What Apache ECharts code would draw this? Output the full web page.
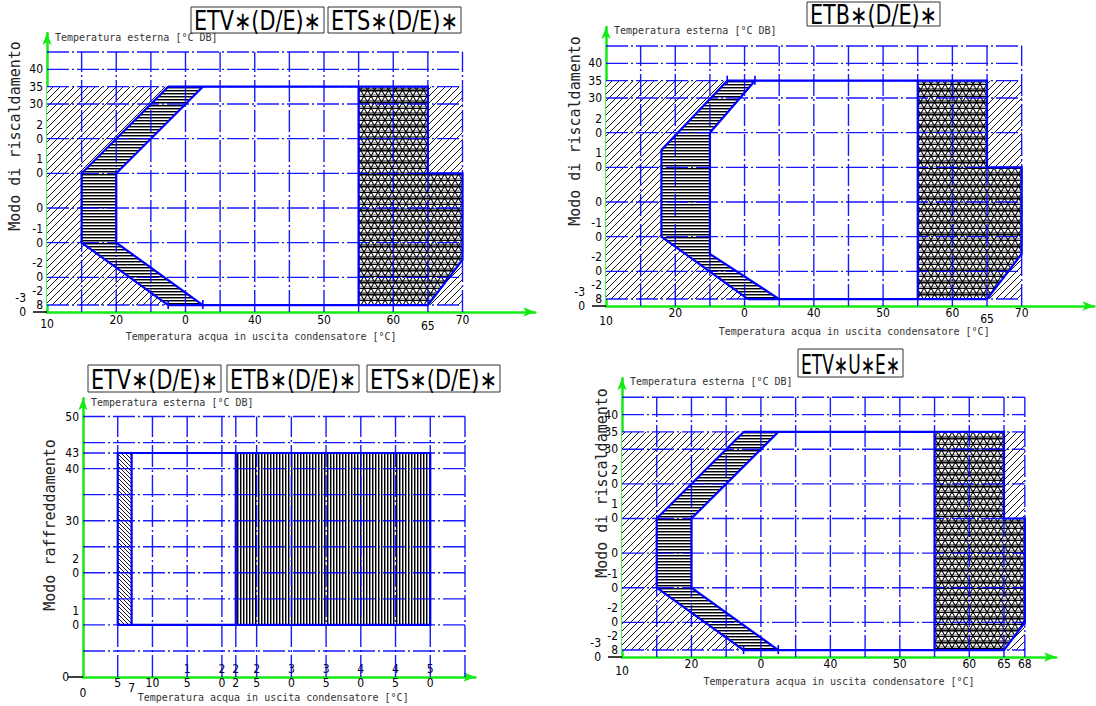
<!DOCTYPE html>
<html>
<head>
<meta charset="utf-8">
<script src="https://cdn.jsdelivr.net/npm/echarts@6/dist/echarts.min.js"></script>
<style>
  html, body { margin: 0; padding: 0; background: #fff; }
  #main { width: 1096px; height: 706px; }
</style>
</head>
<body>
<div id="main"></div>
<script>
// ---------- Heating envelope ETV*(D/E)* / ETS*(D/E)* ----------
const hvTickX = [10, 20, 30, 40, 50, 60, 65, 70];
const hvTickXText = ['10', '20', '0', '40', '50', '60', '65', '70'];
const hvTickY = [40, 35, 30, 20, 10, 0, -10, -20, -28, -30];
const hvTickYText = ['40', '35', '30', '2\n0', '1\n0', '0', '-1\n0', '-2\n0', '-2\n8', '-3\n0'];
const hvGridX = [15, 20, 25, 30, 35, 40, 45, 50, 55, 60, 65, 70];
const hvGridY = [45, 40, 35, 30, 20, 10, 0, -10, -20, -28];
const hvMinLine = [[27.5, 35], [15, 10], [15, -10], [27.5, -28]];
const hvLowLine = [[32.5, 35], [20, 10], [20, -10], [32.5, -28]];
const hvMaxLine = [[27.5, 35], [65, 35], [65, 10], [70, 10], [70, -15], [65, -28], [27.5, -28]];
const hvHighFrom = 55;

// ---------- Heating envelope ETB*(D/E)* ----------
const tbMinLine = [[27.5, 35], [18, 15], [18, -10], [30.5, -28]];
const tbLowLine = [[31.5, 35], [25, 20], [25, -15], [35, -28]];
const tbMaxLine = [[27.5, 35], [65, 35], [65, 10], [70, 10], [70, -15], [65, -28], [30.5, -28]];
const tbHighFrom = 55;

// ---------- Heating envelope ETV*U*E* ----------
const vuTickX = [10, 20, 30, 40, 50, 60, 65, 68];
const vuTickXText = ['10', '20', '0', '40', '50', '60', '65', '68'];
const vuGridX = [15, 20, 25, 30, 35, 40, 45, 50, 55, 60, 65, 68];
const vuMinLine = [[27.5, 35], [15, 10], [15, -10], [27.5, -28]];
const vuLowLine = [[32.5, 35], [20, 10], [20, -10], [32.5, -28]];
const vuMaxLine = [[27.5, 35], [65, 35], [65, 10], [68, 10], [68, -20], [65, -28], [27.5, -28]];
const vuHighFrom = 55;

// ---------- Cooling envelope ----------
const coTickX = [0, 5, 7, 10, 15, 20, 22, 25, 30, 35, 40, 45, 50];
const coTickXText = ['0', '5', '7', '10', '1\n5', '2\n0', '2\n2', '2\n5', '3\n0', '3\n5', '4\n0', '4\n5', '5\n0'];
const coTickY = [50, 43, 40, 30, 20, 10, 0];
const coTickYText = ['50', '43', '40', '30', '2\n0', '1\n0', '0'];
const coGridX = [5, 10, 15, 20, 22, 25, 30, 35, 40, 45, 50, 55];
const coGridY = [50, 45, 43, 40, 35, 30, 25, 20, 15, 10, 5];
const coEnvelope = [[5, 10], [50, 43]];
const coLowStrip = [5, 7];
const coHighBand = [22, 50];

// ---------- styling ----------
const FONT_NARROW = "'Liberation Sans Narrow', 'DejaVu Sans Condensed', 'Arial Narrow', sans-serif";
const FONT_MONO = "'DejaVu Sans Mono', 'Liberation Mono', monospace";
const GREEN = '#14ea14';
const BLUE = '#0000ff';
const GRID_DASH = [22, 3, 2, 3];

function makeTile(w, h, paint) {
  const c = document.createElement('canvas');
  c.width = w; c.height = h;
  const g = c.getContext('2d');
  g.fillStyle = '#fff';
  g.fillRect(0, 0, w, h);
  paint(g, w, h);
  return { image: c, repeat: 'repeat', imageWidth: w, imageHeight: h };
}
const HATCH_DIAG = makeTile(7, 7, (g, w, h) => {
  g.strokeStyle = '#000'; g.lineWidth = 0.9;
  g.beginPath();
  g.moveTo(-1, h + 1); g.lineTo(w + 1, -1);
  g.moveTo(-1, 1); g.lineTo(1, -1);
  g.moveTo(w - 1, h + 1); g.lineTo(w + 1, h - 1);
  g.stroke();
});
const HATCH_BACK = makeTile(4, 4, (g, w, h) => {
  g.strokeStyle = '#000'; g.lineWidth = 0.9;
  g.beginPath();
  g.moveTo(-1, -1); g.lineTo(w + 1, h + 1);
  g.moveTo(w - 1, -1); g.lineTo(w + 1, 1);
  g.moveTo(-1, h - 1); g.lineTo(1, h + 1);
  g.stroke();
});
const HATCH_HORZ = makeTile(4, 3, (g, w) => {
  g.fillStyle = '#000'; g.fillRect(0, 0, w, 1);
  g.fillStyle = '#8c8c8c'; g.fillRect(0, 1, w, 1);
});
const HATCH_VERT = makeTile(3, 4, (g, w, h) => {
  g.fillStyle = '#000'; g.fillRect(0, 0, 1, h);
  g.fillStyle = '#8c8c8c'; g.fillRect(1, 0, 1, h);
});
const HATCH_TRI = makeTile(7, 12, (g, w, h) => {
  g.fillStyle = '#7a7a7a'; g.fillRect(0, 4, w, 4);
  g.fillStyle = '#b0b0b0'; g.fillRect(0, 10, w, 2);
  g.strokeStyle = '#000'; g.lineWidth = 1.1;
  g.beginPath();
  g.moveTo(0, 0.5); g.lineTo(w, 0.5);
  g.moveTo(0, 6.5); g.lineTo(w, 6.5);
  g.moveTo(0, 0); g.lineTo(w, h);
  g.moveTo(0, h); g.lineTo(w, 0);
  g.stroke();
});

// ---------- shape builders ----------
function heatingShapes(xMin, yMin, gridX, gridY, minLine, lowLine, maxLine, highFrom, markTop) {
  const xEnd = gridX[gridX.length - 1];
  const yTop = gridY[0];
  const yHi = maxLine[0][1];
  const yLo = maxLine[maxLine.length - 1][1];
  const fills = [
    { pts: [[xMin, yHi], ...minLine, [xMin, yLo]], fill: HATCH_DIAG },
    { pts: [...minLine, ...lowLine.slice().reverse()], fill: HATCH_HORZ },
    { pts: [[highFrom, yHi], ...maxLine.slice(1, 6), [highFrom, yLo]], fill: HATCH_TRI },
    { pts: [maxLine[1], [xEnd, yHi], maxLine[3], maxLine[2]], fill: HATCH_DIAG },
    { pts: [maxLine[5], maxLine[4], [maxLine[4][0], yLo]], fill: HATCH_DIAG }
  ];
  const grid = [
    ...gridX.map(v => ({ pts: [[v, yMin], [v, yTop]] })),
    ...gridY.map(v => ({ pts: [[xMin, v], [xEnd, v]] }))
  ];
  const outline = [
    { pts: minLine }, { pts: lowLine }, { pts: maxLine },
    { pts: [[highFrom, yHi], [highFrom, yLo]] }
  ];
  // small end marks where the two limit lines meet the horizontal boundary
  const ends = markTop
    ? [{ pts: [minLine[0]] }, { pts: [lowLine[0]] }]
    : [{ pts: [minLine[minLine.length - 1]] }, { pts: [lowLine[lowLine.length - 1]] }];
  return { fills, grid, outline, ends };
}

function coolingShapes(xMin, yMin, gridX, gridY) {
  const xEnd = gridX[gridX.length - 1];
  const yTop = gridY[0];
  const [[x0, y0], [x1, y1]] = coEnvelope;
  const rect = (a, b) => [[a, y0], [b, y0], [b, y1], [a, y1]];
  const fills = [
    { pts: rect(coLowStrip[0], coLowStrip[1]), fill: HATCH_BACK },
    { pts: rect(coHighBand[0], coHighBand[1]), fill: HATCH_VERT }
  ];
  const grid = [
    ...gridX.map(v => ({ pts: [[v, yMin], [v, yTop]] })),
    ...gridY.map(v => ({ pts: [[xMin, v], [xEnd, v]] }))
  ];
  const outline = [
    { pts: [...rect(x0, x1), [x0, y0]] },
    { pts: [[coLowStrip[1], y0], [coLowStrip[1], y1]] },
    { pts: [[coHighBand[0], y0], [coHighBand[0], y1]] }
  ];
  return { fills, grid, outline, ends: [] };
}

// ---------- panels ----------
const panels = [
  {
    grid: { left: 47, top: 32.93, width: 488.2, height: 279.07 },
    x: { min: 10, max: 80.5, ticks: hvTickX, text: hvTickXText, margin: 8, offsets: { 10: 4, 65: 6 } },
    y: { min: -30, max: 50.5, ticks: hvTickY, text: hvTickYText, margin: 4, farPad: 17, tickLen: 14, endSafe: true },
    xName: { gap: 19, shift: -30 }, yName: { gap: -4.4 },
    shapes: heatingShapes(10, -30, hvGridX, hvGridY, hvMinLine, hvLowLine, hvMaxLine, hvHighFrom, false)
  },
  {
    grid: { left: 606, top: 26.93, width: 488.4, height: 279.07 },
    x: { min: 10, max: 80.5, ticks: hvTickX, text: hvTickXText, margin: 7, offsets: { 10: 8, 65: 6 } },
    y: { min: -30, max: 50.5, ticks: hvTickY, text: hvTickYText, margin: 4, farPad: 17, tickLen: 14, endSafe: true },
    xName: { gap: 20, shift: 4 }, yName: { gap: -3.8 },
    shapes: heatingShapes(10, -30, hvGridX, hvGridY, tbMinLine, tbLowLine, tbMaxLine, tbHighFrom, true)
  },
  {
    grid: { left: 83, top: 398.3, width: 392.4, height: 278.7 },
    x: { min: 0, max: 56.5, ticks: coTickX, text: coTickXText, margin: 6, offsets: { 0: 10, 7: 5 } },
    y: { min: 0, max: 53.5, ticks: coTickY, text: coTickYText, margin: 4, farPad: 10, tickLen: 15, endSafe: false },
    xName: { gap: 15, shift: -6 }, yName: { gap: -4.4 },
    shapes: coolingShapes(0, 0, coGridX, coGridY)
  },
  {
    grid: { left: 622, top: 378.25, width: 434.1, height: 278.75 },
    x: { min: 10, max: 72.5, ticks: vuTickX, text: vuTickXText, margin: 7, offsets: { 10: 7 } },
    y: { min: -30, max: 50.5, ticks: hvTickY, text: hvTickYText, margin: 4, farPad: 17, tickLen: 14, endSafe: true },
    xName: { gap: 19, shift: 0 }, yName: { gap: -3.4 },
    shapes: heatingShapes(10, -30, vuGridX, hvGridY, vuMinLine, vuLowLine, vuMaxLine, vuHighFrom, false)
  }
];

// split labels keep their last digit on the tick
function labelText(text, style) {
  const lines = String(text).split('\n');
  const out = lines.map(l => '{' + style + '|' + l + '}');
  if (lines.length > 1) out.push('{' + style + '| }');
  return out.join('\n');
}
// the axis compares its first and last label with their neighbours and drops
// one of a colliding pair; put well separated values at both ends of the list
function endSafeOrder(ticks) {
  const t = ticks.slice();
  const first = t.pop();
  const last = t.splice(t.length - 3, 1);
  return [first, ...t, ...last];
}
const baseRich = { fontFamily: FONT_NARROW, fontSize: 12, lineHeight: 14, color: '#000' };

function xAxisFor(i, P) {
  const rich = { n: baseRich };
  Object.values(P.x.offsets).forEach(o => { rich['o' + o] = Object.assign({}, baseRich, { padding: [2 * o, 0, 0, 0] }); });
  const s = P.xName.shift;
  return {
    type: 'value', gridIndex: i, min: P.x.min, max: P.x.max,
    axisLine: { onZero: false, symbol: ['none', 'arrow'], symbolSize: [7, 12], lineStyle: { color: GREEN, width: 2.5 } },
    axisTick: { show: false }, splitLine: { show: false },
    axisLabel: {
      customValues: P.x.ticks, margin: P.x.margin, verticalAlign: 'middle',
      showMinLabel: true, showMaxLabel: true, hideOverlap: false,
      formatter: v => {
        const k = P.x.ticks.indexOf(v);
        const o = P.x.offsets[v];
        return labelText(k >= 0 ? P.x.text[k] : v, o ? 'o' + o : 'n');
      },
      rich
    },
    name: 'Temperatura acqua in uscita condensatore [°C]',
    nameLocation: 'middle', nameGap: P.xName.gap, nameMoveOverlap: false,
    nameTextStyle: {
      fontFamily: FONT_MONO, fontSize: 10, color: '#333',
      padding: s < 0 ? [0, -2 * s, 0, 0] : [0, 0, 0, 2 * s]
    }
  };
}

function yAxisFor(i, P) {
  const rich = { n: baseRich, far: Object.assign({}, baseRich, { padding: [0, P.y.farPad, 0, 0] }) };
  return {
    type: 'value', gridIndex: i, min: P.y.min, max: P.y.max,
    axisLine: { onZero: false, symbol: ['none', 'arrow'], symbolSize: [7, 12], lineStyle: { color: GREEN, width: 2.5 } },
    axisTick: { show: true, customValues: [P.y.min], length: P.y.tickLen, lineStyle: { color: '#000', width: 1.5 } },
    splitLine: { show: false },
    axisLabel: {
      customValues: P.y.endSafe ? endSafeOrder(P.y.ticks) : P.y.ticks,
      margin: P.y.margin,
      showMinLabel: true, showMaxLabel: true, hideOverlap: false,
      formatter: v => {
        const k = P.y.ticks.indexOf(v);
        return labelText(k >= 0 ? P.y.text[k] : v, v === P.y.min ? 'far' : 'n');
      },
      rich
    },
    name: 'Temperatura esterna [°C DB]',
    nameLocation: 'end', nameGap: P.yName.gap, nameMoveOverlap: false,
    nameTextStyle: { fontFamily: FONT_MONO, fontSize: 10, color: '#333', align: 'left', verticalAlign: 'middle', padding: [0, 0, 0, 8] }
  };
}

function shapeSeries(i, shapes, z, kind) {
  return {
    type: 'custom', xAxisIndex: i, yAxisIndex: i, z, silent: true, animation: false,
    data: shapes.map(s => s.pts[0]),
    renderItem(params, api) {
      const s = shapes[params.dataIndex];
      const points = s.pts.map(p => api.coord(p));
      if (kind === 'fill') {
        return { type: 'polygon', shape: { points }, style: { fill: s.fill, stroke: null } };
      }
      if (kind === 'grid') {
        return { type: 'polyline', shape: { points }, style: { fill: null, stroke: BLUE, lineWidth: 1.4, lineDash: GRID_DASH, opacity: 0.9 } };
      }
      if (kind === 'ends') {
        const [px, py] = points[0];
        return { type: 'line', shape: { x1: px, y1: py - 5, x2: px, y2: py + 4 }, style: { stroke: BLUE, lineWidth: 1.6 } };
      }
      return { type: 'polyline', shape: { points }, style: { fill: null, stroke: BLUE, lineWidth: 2.2 } };
    }
  };
}

// ---------- titles and side captions ----------
const titleBoxes = [
  { text: 'ETV∗(D/E)∗', x: 191, y: 7, w: 133, h: 26 },
  { text: 'ETS∗(D/E)∗', x: 328, y: 7, w: 133, h: 26 },
  { text: 'ETB∗(D/E)∗', x: 807, y: 2, w: 133, h: 24 },
  { text: 'ETV∗(D/E)∗', x: 88, y: 365, w: 133, h: 27 },
  { text: 'ETB∗(D/E)∗', x: 227, y: 365, w: 132, h: 27 },
  { text: 'ETS∗(D/E)∗', x: 367, y: 365, w: 133, h: 27 },
  { text: 'ETV∗U∗E∗', x: 798, y: 349, w: 105, h: 28 }
];
const sideCaptions = [
  { text: 'Modo di riscaldamento', x: 15, y: 136 },
  { text: 'Modo di riscaldamento', x: 575, y: 131 },
  { text: 'Modo raffreddamento', x: 50, y: 525 },
  { text: 'Modo di riscaldamento', x: 602, y: 483 }
];

const measureCtx = document.createElement('canvas').getContext('2d');
function squeezeToFit(text, font, width) {
  measureCtx.font = font;
  const w = measureCtx.measureText(text).width;
  return w > width ? width / w : 1;
}

const TITLE_FONT = '26px ' + FONT_NARROW;
const graphicElements = [];
titleBoxes.forEach(t => {
  graphicElements.push({
    type: 'rect', z: 20, silent: true,
    shape: { x: t.x, y: t.y, width: t.w, height: t.h },
    style: { fill: '#fff', stroke: '#333', lineWidth: 1 }
  });
  graphicElements.push({
    type: 'text', z: 21, silent: true, x: t.x + t.w / 2, y: t.y + t.h / 2 + 1.5,
    scaleX: squeezeToFit(t.text, TITLE_FONT, t.w - 6),
    style: { text: t.text, fill: '#000', font: TITLE_FONT, align: 'center', verticalAlign: 'middle', textAlign: 'center', textVerticalAlign: 'middle' }
  });
});
sideCaptions.forEach(c => {
  graphicElements.push({
    type: 'text', z: 21, silent: true, x: c.x, y: c.y, rotation: Math.PI / 2,
    style: { text: c.text, fill: '#222', font: '15px ' + FONT_MONO, align: 'center', verticalAlign: 'middle', textAlign: 'center', textVerticalAlign: 'middle' }
  });
});

const option = {
  animation: false,
  backgroundColor: '#fff',
  grid: panels.map(P => Object.assign({ containLabel: false, outerBoundsMode: 'none' }, P.grid)),
  xAxis: panels.map((P, i) => xAxisFor(i, P)),
  yAxis: panels.map((P, i) => yAxisFor(i, P)),
  series: panels.flatMap((P, i) => [
    shapeSeries(i, P.shapes.fills, 1, 'fill'),
    shapeSeries(i, P.shapes.grid, 2, 'grid'),
    shapeSeries(i, P.shapes.outline, 3, 'outline'),
    shapeSeries(i, P.shapes.ends, 3, 'ends')
  ]),
  graphic: { elements: graphicElements }
};

const chart = echarts.init(document.getElementById('main'), null, { renderer: 'svg' });
chart.setOption(option);
</script>
</body>
</html>
